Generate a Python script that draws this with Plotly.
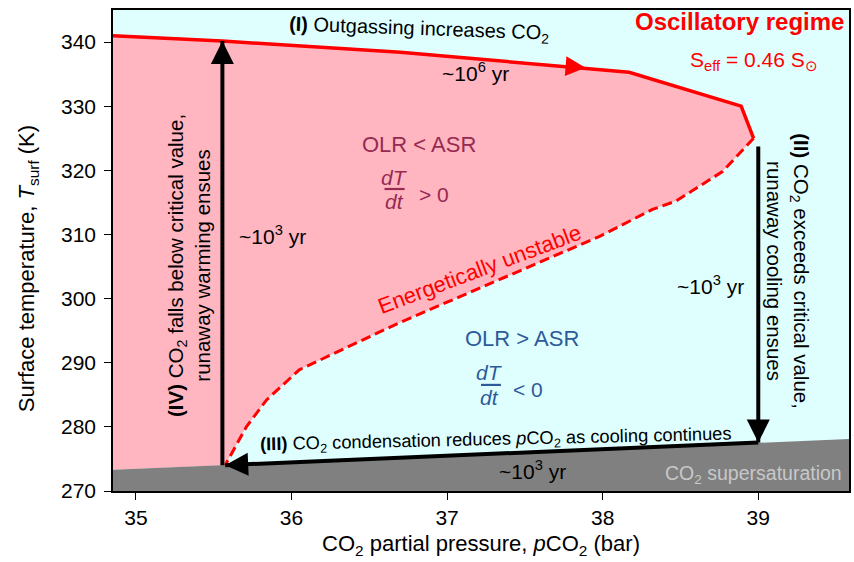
import plotly.graph_objects as go

# Axis extents and ticks
x_range = [34.853, 39.583]
y_range = [270, 345]
x_ticks = [35, 36, 37, 38, 39]
y_ticks = [270, 280, 290, 300, 310, 320, 330, 340]

# Stable hot branch (solid red), pCO2 [bar] vs Tsurf [K]
hot_p = [34.853, 35.556, 36.70, 37.89, 38.17, 38.89, 38.97]
hot_T = [341.0, 340.15, 338.4, 336.0, 335.3, 330.0, 325.0]

# Energetically unstable branch (dashed red)
unst_p = [38.97, 38.77, 38.47, 38.32, 37.98, 37.34, 36.69, 36.05, 35.84, 35.71, 35.574]
unst_T = [325.0, 319.8, 315.2, 313.9, 309.7, 303.0, 296.2, 288.9, 284.2, 280.0, 274.03]

# CO2 saturation boundary (top of grey supersaturation region)
sat_p = [34.853, 39.583]
sat_T = [273.3, 278.1]

# Limit-cycle legs
leg4_p = [35.556, 35.556]      # runaway warming
leg4_T = [274.0, 340.15]
leg2_p = [39.0, 39.0]          # runaway cooling
leg2_T = [323.7, 277.55]
leg3_p = [39.0, 35.574]        # condensation back along saturation
leg3_T = [277.55, 274.03]
hot_arrow_idx = 3              # red arrowhead sits on this hot-branch point

RED = "#ff0000"
PINK = "#ffb6c1"
CYAN = "#dfffff"
GREY = "#808080"
MAROON = "#962a52"
BLUE = "#2e5a9a"
FONT = "Liberation Sans, Arial, sans-serif"

fig = go.Figure()

# Pink region: under hot branch, left of unstable branch, above saturation line
pink_x = hot_p + unst_p[1:] + [sat_p[0]]
pink_y = hot_T + unst_T[1:] + [sat_T[0]]
fig.add_trace(go.Scatter(x=pink_x, y=pink_y, fill="toself", fillcolor=PINK,
                         mode="none", hoverinfo="skip", showlegend=False))

# Grey supersaturation region
fig.add_trace(go.Scatter(x=[sat_p[0], sat_p[0], sat_p[1], sat_p[1]],
                         y=[y_range[0], sat_T[0], sat_T[1], y_range[0]],
                         fill="toself", fillcolor=GREY, mode="none",
                         hoverinfo="skip", showlegend=False))

# Branches
fig.add_trace(go.Scatter(x=hot_p, y=hot_T, mode="lines",
                         line=dict(color=RED, width=3.5), showlegend=False))
fig.add_trace(go.Scatter(x=unst_p, y=unst_T, mode="lines",
                         line=dict(color=RED, width=3, dash="10px,5px"),
                         showlegend=False))

# Black legs of the cycle
for px, ty in [(leg4_p, leg4_T), (leg2_p, leg2_T), (leg3_p, leg3_T)]:
    fig.add_trace(go.Scatter(x=px, y=ty, mode="lines",
                             line=dict(color="black", width=4), showlegend=False))

# Arrowheads (tip placed at the end point of each leg)
heads = [
    (leg4_p[-1], leg4_T[-1], "arrow-up", 0, "black", 23),
    (leg2_p[-1], leg2_T[-1], "arrow-down", 0, "black", 23),
    (leg3_p[-1], leg3_T[-1], "arrow-left", -2.5, "black", 23),
    (hot_p[hot_arrow_idx], hot_T[hot_arrow_idx], "arrow-right", 4.5, RED, 20),
]
for hx, hy, sym, ang, col, sz in heads:
    fig.add_trace(go.Scatter(x=[hx], y=[hy], mode="markers",
                             marker=dict(symbol=sym, size=sz, color=col, angle=ang,
                                         line=dict(width=0)),
                             showlegend=False, hoverinfo="skip"))

ann = []

def text(x, y, s, size=19, color="black", angle=0, xanchor="center", **kw):
    ann.append(dict(x=x, y=y, xref="x", yref="y", text=s, showarrow=False,
                    textangle=angle, xanchor=xanchor, yanchor="middle",
                    font=dict(family=FONT, size=size, color=color), **kw))

text(36.82, 341.95, "<b>(I)</b> Outgassing increases CO<sub>2</sub>", size=20, angle=2)
text(37.18, 335.4, "~10<sup>6</sup> yr", size=21)
text(39.566, 343.2, "<b>Oscillatory regime</b>", size=24, color=RED, xanchor="right")
text(38.97, 337.0, "S<sub>eff</sub> = 0.46 S<sub>⊙</sub>", size=21, color=RED)

# OLR < ASR block
text(36.817, 324.08, "OLR < ASR", size=22, color=MAROON)
text(36.662, 318.85, "<i>dT</i>", size=21, color=MAROON)
text(36.662, 315.1, "<i>dt</i>", size=21, color=MAROON)
text(36.919, 316.28, "> 0", size=21, color=MAROON)

# OLR > ASR block
text(37.483, 293.8, "OLR > ASR", size=22, color=BLUE)
text(37.274, 288.49, "<i>dT</i>", size=21, color=BLUE)
text(37.274, 284.51, "<i>dt</i>", size=21, color=BLUE)
text(37.521, 285.76, "< 0", size=21, color=BLUE)

text(37.207, 304.5, "Energetically unstable", size=22, color=RED, angle=-20.6)

text(35.875, 309.9, "~10<sup>3</sup> yr", size=21)
text(38.692, 302.15, "~10<sup>3</sup> yr", size=21)
text(37.548, 273.35, "~10<sup>3</sup> yr", size=21)

text(37.313, 277.96,
     "<b>(III)</b> CO<sub>2</sub> condensation reduces <i>p</i>CO<sub>2</sub> as cooling continues",
     size=18.3, angle=-1.3)
text(38.97, 272.65, "CO<sub>2</sub> supersaturation", size=19.5, color="#c8c8c8")

text(35.342, 305.1,
     "<b>(IV)</b> CO<sub>2</sub> falls below critical value,<br>runaway warming ensues",
     size=20.5, angle=-90)
text(39.194, 304.2,
     "<b>(II)</b> CO<sub>2</sub> exceeds critical value,<br>runaway cooling ensues",
     size=20.5, angle=90)

# y-axis title, placed as a rotated annotation
ann.append(dict(x=-0.1152, y=0.4615, xref="paper", yref="paper",
                text="Surface temperature, <i>T</i><sub>surf</sub> (K)", showarrow=False,
                textangle=-90, xanchor="center", yanchor="middle",
                font=dict(family=FONT, size=22, color="black")))

# fraction bars for dT/dt
shapes = []
for (x0, x1, yb, col) in [(36.598, 36.727, 317.09, MAROON), (37.218, 37.346, 286.54, BLUE)]:
    shapes.append(dict(type="line", xref="x", yref="y", x0=x0, x1=x1, y0=yb, y1=yb,
                       line=dict(color=col, width=2.2)))

fig.update_layout(
    width=854, height=562,
    margin=dict(l=113, r=3, t=10, b=71),
    paper_bgcolor="white", plot_bgcolor=CYAN,
    annotations=ann, shapes=shapes,
    font=dict(family=FONT, color="black"),
)
fig.update_xaxes(range=x_range, tickvals=x_ticks, ticks="outside", ticklen=7,
                 tickwidth=1.3, tickcolor="black", showline=True, linecolor="black",
                 linewidth=1.5, mirror=True, showgrid=False, zeroline=False,
                 tickfont=dict(family=FONT, size=21),
                 title=dict(text="CO<sub>2</sub> partial pressure, <i>p</i>CO<sub>2</sub> (bar)",
                            font=dict(family=FONT, size=22), standoff=8))
fig.update_yaxes(range=y_range, tickvals=y_ticks, ticks="outside", ticklen=7,
                 tickwidth=1.3, tickcolor="black", showline=True, linecolor="black",
                 linewidth=1.5, mirror=True, showgrid=False, zeroline=False,
                 tickfont=dict(family=FONT, size=21), ticklabelstandoff=4)

fig.write_html("out.html")
